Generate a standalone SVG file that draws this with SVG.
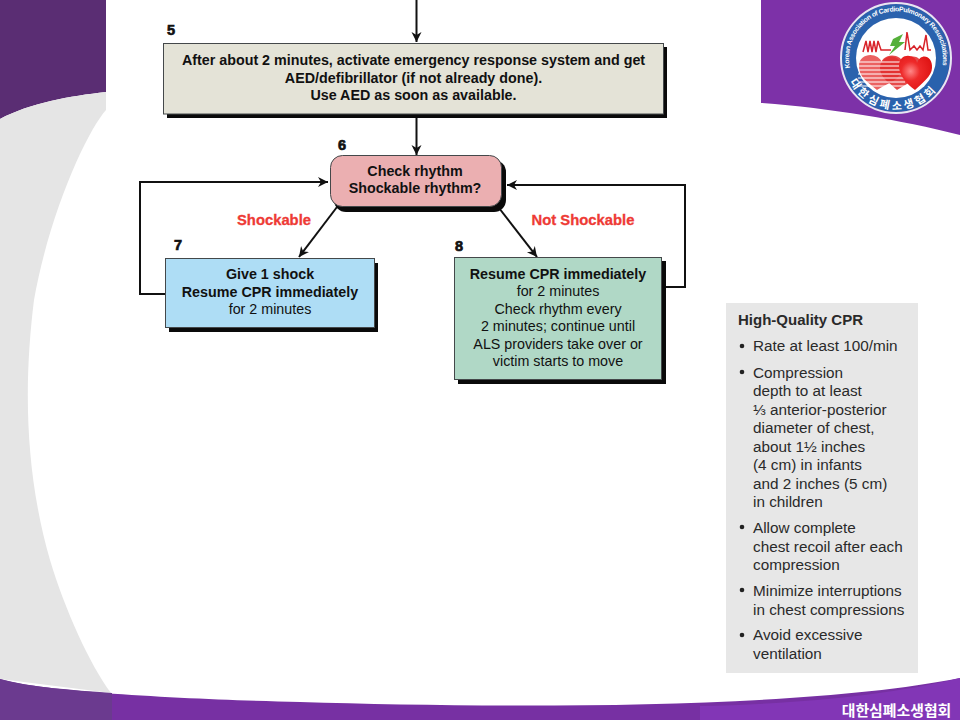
<svg xmlns="http://www.w3.org/2000/svg" width="960" height="720" viewBox="0 0 960 720">
<style>
text{font-family:"Liberation Sans",Arial,sans-serif;fill:#111}
.c{text-anchor:middle;font-size:14.3px}
.b{font-weight:bold}
.n{font-size:14.500px;font-weight:bold;stroke:#111;stroke-width:.7px}
.lab{font-size:14.800px;font-weight:bold;fill:#ee3a35;text-anchor:middle;stroke:#ee3a35;stroke-width:.3px}
.s{font-size:15.300px;fill:#2a2a2a}
.ln{fill:none;stroke:#111;stroke-width:2}
.sh{fill:#0a0a0a}
.box{stroke:#44484a;stroke-width:1}
</style>
<defs>
<marker id="a" markerWidth="12" markerHeight="12" refX="10" refY="5" orient="auto" markerUnits="userSpaceOnUse"><path d="M0 0L10 5L0 10L3 5Z" fill="#111"/></marker>
<path id="tarc" d="M850 68A47 47 0 1 1 942 68"/>
<path id="barc" d="M849 80A52 52 0 0 0 943 80"/>
<radialGradient id="hg" cx=".35" cy=".45" r=".7"><stop offset="0" stop-color="#f88"/><stop offset=".4" stop-color="#ee2a2a"/><stop offset="1" stop-color="#dd1111"/></radialGradient>
</defs>
<rect width="960" height="720" fill="#fff"/>
<g id="background">
<path d="M0 119C30 103 70 96 106 92V0H0Z" fill="#5a2d73"/>
<path d="M0 119C30 103 70 96 106 92V110C88 130 50 210 34 300C24 380 24 470 50 560C65 610 90 665 111 693L0 679Z" fill="#e5e5e5"/>
<path d="M761 0V103C830 108 900 120 960 135V0Z" fill="#7d31a8"/>
<path d="M0 679C40 692 200 700 300 702C500 708 800 710 960 678V720H0Z" fill="#7730a3"/>
<path d="M0 679C30 687 70 690 112 693V720H0Z" fill="#6b3a8f"/>
<path d="M700 706C800 704 890 695 960 678V720H700Z" fill="#8236b6"/>
</g>
<g id="logo">
<circle cx="896" cy="58" r="54" fill="#2a62ad"/>
<circle cx="896" cy="58" r="55" fill="none" stroke="#e7e7f2" stroke-width="2"/>
<circle cx="896" cy="58" r="40" fill="#fff"/>
<text font-size="6.800" font-weight="bold" style="fill:#fff"><textPath href="#tarc" textLength="164">Korean Association of CardioPulmonary Resuscitations</textPath></text>
<text font-size="11" font-weight="bold" letter-spacing="3" style="fill:#fff;font-family:'Noto Sans CJK KR',sans-serif"><textPath href="#barc" startOffset="2">대한심폐소생협회</textPath></text>
<path d="M863 52L866 41L868 52L870 41L872 52L874 41L876 52L878 41L881 50H891M905 50L907 32L910 50L914 46L917 50L920 46L923 50L926 35L928 50H931" fill="none" stroke="#d8232a" stroke-width="1.500"/>
<path d="M893 39L903 34L899 42H905L889 55L895 46H890Z" fill="#55b03a"/>
<path d="M859 66C859 52 879 52 882 63C885 52 904 55 902 70C900 80 888 83 877 90C868 82 859 78 859 66Z" fill="#e63a3a" opacity=".8"/>
<path d="M880 68C880 52 901 52 904 64C907 52 925 55 922 70C920 78 909 82 897 90C889 82 880 78 880 68Z" fill="#e22a2a" opacity=".85"/>
<g stroke="#fff" stroke-width="1.100"><path d="M858 62H905M858 66H905M858 70H905M858 74H905M858 78H905M858 82H905M858 86H905"/></g>
<path d="M899 66C899 52 916 54 917 63C921 52 933 56 932 68C932 76 921 84 915 90C907 84 899 76 899 66Z" fill="url(#hg)"/>
</g>
<g id="connectors">
<path class="ln" d="M416.500 0V42" marker-end="url(#a)"/>
<path class="ln" d="M416.500 115V155" marker-end="url(#a)"/>
<path class="ln" d="M166 294H140V182H328" marker-end="url(#a)"/>
<path class="ln" d="M337 207L299 257" marker-end="url(#a)"/>
<path class="ln" d="M499 208L537 257" marker-end="url(#a)"/>
<path class="ln" d="M665 287H685V185H507" marker-end="url(#a)"/>
</g>
<g id="node5">
<rect class="sh" x="167" y="47" width="500" height="71"/>
<rect class="box" x="163.500" y="43.500" width="500" height="70.500" fill="#e4e3d7"/>
<text class="n" x="167" y="35">5</text>
<text class="c b" x="413.500" y="65">After about 2 minutes, activate emergency response system and get</text>
<text class="c b" x="413.500" y="83">AED/defibrillator (if not already done).</text>
<text class="c b" x="413.500" y="100">Use AED as soon as available.</text>
</g>
<g id="node6">
<rect class="sh" x="334" y="160" width="172" height="52" rx="12"/>
<rect class="box" x="330.500" y="155.500" width="171" height="51" rx="12" fill="#ebafb1"/>
<text class="n" x="338" y="150">6</text>
<text class="c b" x="415" y="176">Check rhythm</text>
<text class="c b" x="415" y="193">Shockable rhythm?</text>
</g>
<g id="node7">
<rect class="sh" x="169" y="263" width="209" height="69"/>
<rect class="box" x="165.500" y="258.500" width="209" height="69" fill="#aeddf5"/>
<text class="n" x="174" y="250">7</text>
<text class="c b" x="270" y="279">Give 1 shock</text>
<text class="c b" x="270" y="297">Resume CPR immediately</text>
<text class="c" x="270" y="314">for 2 minutes</text>
</g>
<g id="node8">
<rect class="sh" x="458" y="261" width="208" height="123"/>
<rect class="box" x="454.500" y="257.500" width="207" height="122" fill="#b0d8c6"/>
<text class="n" x="455" y="251">8</text>
<text class="c b" x="558" y="279">Resume CPR immediately</text>
<text class="c" x="558" y="296">for 2 minutes</text>
<text class="c" x="558" y="314">Check rhythm every</text>
<text class="c" x="558" y="331">2 minutes; continue until</text>
<text class="c" x="558" y="349">ALS providers take over or</text>
<text class="c" x="558" y="366">victim starts to move</text>
</g>
<text class="lab" x="274" y="225">Shockable</text>
<text class="lab" x="583" y="225">Not Shockable</text>
<g id="sidebar">
<rect x="726" y="303" width="192" height="370" fill="#e7e7e7"/>
<text class="s b" x="738" y="325" style="font-size:15px">High-Quality CPR</text>
<g fill="#222"><circle cx="742" cy="346" r="2.300"/><circle cx="742" cy="372" r="2.300"/><circle cx="742" cy="527" r="2.300"/><circle cx="742" cy="590" r="2.300"/><circle cx="742" cy="635" r="2.300"/></g>
<text class="s" x="753" y="351">Rate at least 100/min</text>
<text class="s" x="753" y="378">Compression</text>
<text class="s" x="753" y="396">depth to at least</text>
<text class="s" x="753" y="415">⅓ anterior-posterior</text>
<text class="s" x="753" y="433">diameter of chest,</text>
<text class="s" x="753" y="452">about 1½ inches</text>
<text class="s" x="753" y="470">(4 cm) in infants</text>
<text class="s" x="753" y="489">and 2 inches (5 cm)</text>
<text class="s" x="753" y="507">in children</text>
<text class="s" x="753" y="533">Allow complete</text>
<text class="s" x="753" y="552">chest recoil after each</text>
<text class="s" x="753" y="570">compression</text>
<text class="s" x="753" y="596">Minimize interruptions</text>
<text class="s" x="753" y="615">in chest compressions</text>
<text class="s" x="753" y="640">Avoid excessive</text>
<text class="s" x="753" y="659">ventilation</text>
</g>
<text x="896.500" y="716" text-anchor="middle" font-size="14.900" font-weight="bold" style="fill:#fff;font-family:'Noto Sans CJK KR',sans-serif">대한심폐소생협회</text>
</svg>
